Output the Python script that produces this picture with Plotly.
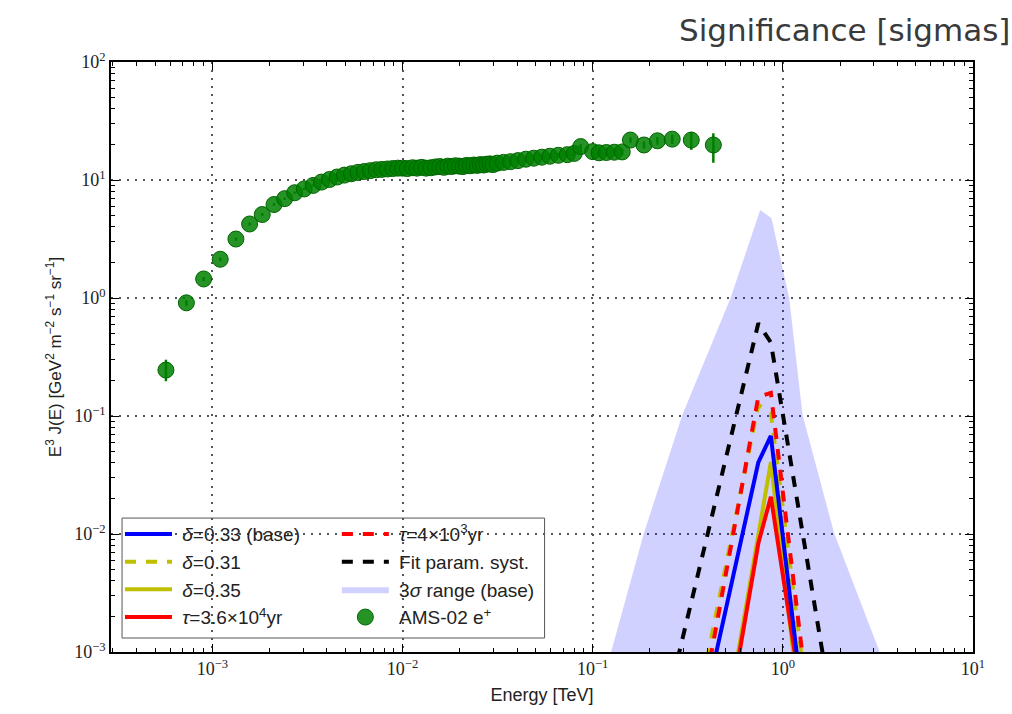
import plotly.graph_objects as go

# ---------------- data ----------------
energy_tev = [0.00057, 0.00073, 0.00090, 0.00110, 0.00133, 0.00157, 0.00183, 0.00211, 0.00240, 0.00271,
              0.00304, 0.00339, 0.00375, 0.00413, 0.00453, 0.00495, 0.00538, 0.00583, 0.00629, 0.00677,
              0.00727, 0.00778, 0.00832, 0.00888, 0.00945, 0.0100, 0.0106, 0.0113, 0.0119, 0.0126,
              0.0133, 0.0141, 0.0149, 0.0157, 0.0165, 0.0173, 0.0181, 0.0190, 0.0199, 0.0208,
              0.0217, 0.0227, 0.0237, 0.0247, 0.0257, 0.0267, 0.0277, 0.0288, 0.0299, 0.0315,
              0.0340, 0.0370, 0.0405, 0.0445, 0.0490, 0.0540, 0.0595, 0.0660, 0.0735, 0.0800,
              0.0865, 0.1000, 0.1080, 0.1180, 0.1300, 0.1430, 0.1580, 0.1860, 0.2190, 0.2620,
              0.3300, 0.4310]
ams_flux = [0.245, 0.91, 1.45, 2.13, 3.16, 4.24, 5.1, 6.2, 6.95, 7.8,
            8.4, 9.0, 9.6, 10.1, 10.6, 11.0, 11.3, 11.6, 11.8, 12.0,
            12.2, 12.3, 12.4, 12.5, 12.6, 12.6, 12.5, 12.7, 12.6, 12.8,
            12.6, 12.7, 12.9, 13.0, 12.8, 13.1, 13.0, 13.2, 13.1, 13.0,
            13.3, 13.2, 13.4, 13.3, 13.5, 13.4, 13.6, 13.7, 13.5, 13.9,
            14.1, 14.3, 14.6, 15.0, 15.3, 15.6, 15.9, 16.2, 16.4, 16.8,
            19.2, 17.4, 17.0, 17.1, 17.2, 17.3, 21.8, 19.8, 21.5, 22.2,
            21.8, 19.8]
ams_err_up = [0.055, 0.05, 0.06, 0.08, 0.1, 0.12, 0.14, 0.16, 0.17, 0.18,
              0.19, 0.2, 0.2, 0.21, 0.22, 0.22, 0.23, 0.23, 0.24, 0.24,
              0.25, 0.25, 0.26, 0.26, 0.27, 0.27, 0.28, 0.28, 0.29, 0.3,
              0.3, 0.31, 0.32, 0.33, 0.33, 0.34, 0.35, 0.36, 0.37, 0.38,
              0.39, 0.4, 0.41, 0.42, 0.43, 0.44, 0.45, 0.46, 0.47, 0.48,
              0.5, 0.52, 0.55, 0.6, 0.62, 0.65, 0.7, 0.75, 0.8, 0.85,
              0.95, 0.95, 1.0, 1.0, 1.05, 1.1, 1.2, 1.4, 1.6, 2.0,
              3.8, 5.1]
ams_err_dn = [0.048, 0.05, 0.06, 0.08, 0.1, 0.12, 0.14, 0.16, 0.17, 0.18,
              0.19, 0.2, 0.2, 0.21, 0.22, 0.22, 0.23, 0.23, 0.24, 0.24,
              0.25, 0.25, 0.26, 0.26, 0.27, 0.27, 0.28, 0.28, 0.29, 0.3,
              0.3, 0.31, 0.32, 0.33, 0.33, 0.34, 0.35, 0.36, 0.37, 0.38,
              0.39, 0.4, 0.41, 0.42, 0.43, 0.44, 0.45, 0.46, 0.47, 0.48,
              0.5, 0.52, 0.55, 0.6, 0.62, 0.65, 0.7, 0.75, 0.8, 0.85,
              0.95, 0.95, 1.0, 1.0, 1.05, 1.1, 1.2, 1.4, 1.6, 2.0,
              3.8, 5.8]

band_e = [0.125, 0.186, 0.296, 0.531, 0.760, 0.872, 1.08, 1.27, 1.86, 3.23]
band_j = [1e-3, 0.0102, 0.102, 1.0, 5.57, 4.73, 1.0, 0.102, 0.0102, 1e-3]

base_e = [0.393, 0.743, 0.865, 1.266]
base_j = [3.9e-4, 0.0404, 0.0678, 3.9e-4]
d031_e = [0.361, 0.743, 0.865, 1.343]
d031_j = [3.9e-4, 0.124, 0.106, 3.9e-4]
d035_e = [0.527, 0.865, 1.215]
d035_j = [3.9e-4, 0.0407, 3.9e-4]
tau36_e = [0.535, 0.743, 0.865, 1.262]
tau36_j = [3.9e-4, 8.3e-3, 0.0207, 3.9e-4]
tau4_e = [0.379, 0.743, 0.865, 1.355]
tau4_j = [3.9e-4, 0.145, 0.157, 3.9e-4]
fit_e = [0.248, 0.743, 0.865, 1.78]
fit_j = [3.9e-4, 0.61, 0.42, 3.9e-4]

x_ticks = [1e-3, 1e-2, 1e-1, 1, 10]
x_ticktext = ["10<sup>−3</sup>", "10<sup>−2</sup>", "10<sup>−1</sup>", "10<sup>0</sup>", "10<sup>1</sup>"]
y_ticks = [1e-3, 1e-2, 1e-1, 1, 10, 100]
y_ticktext = ["10<sup>−3</sup>", "10<sup>−2</sup>", "10<sup>−1</sup>", "10<sup>0</sup>", "10<sup>1</sup>", "10<sup>2</sup>"]

# ---------------- figure ----------------
DASH = "11px,10px"
SP = "\u00a0"
fig = go.Figure()

fig.add_trace(go.Scatter(x=band_e, y=band_j, fill="toself", mode="lines",
                         fillcolor="rgba(0,0,255,0.18)", line=dict(width=0),
                         name=SP + "3<i>σ</i> range (base)", legend="legend2", legendrank=3))
fig.add_trace(go.Scatter(x=d031_e, y=d031_j, mode="lines", line=dict(color="#bfbf00", width=4, dash=DASH),
                         name=SP + "<i>δ</i>=0.31", legend="legend", legendrank=2))
fig.add_trace(go.Scatter(x=tau4_e, y=tau4_j, mode="lines", line=dict(color="#ff0000", width=4, dash=DASH),
                         name=SP + "<i>τ</i>=4×10<sup>3</sup>yr", legend="legend2", legendrank=1))
fig.add_trace(go.Scatter(x=fit_e, y=fit_j, mode="lines", line=dict(color="#000000", width=4, dash=DASH),
                         name=SP + "Fit param. syst.", legend="legend2", legendrank=2))
fig.add_trace(go.Scatter(x=d035_e, y=d035_j, mode="lines", line=dict(color="#bfbf00", width=4),
                         name=SP + "<i>δ</i>=0.35", legend="legend", legendrank=3))
fig.add_trace(go.Scatter(x=tau36_e, y=tau36_j, mode="lines", line=dict(color="#ff0000", width=4),
                         name=SP + "<i>τ</i>=3.6×10<sup>4</sup>yr", legend="legend", legendrank=4))
fig.add_trace(go.Scatter(x=base_e, y=base_j, mode="lines", line=dict(color="#0000ff", width=4),
                         name=SP + "<i>δ</i>=0.33 (base)", legend="legend", legendrank=1))
fig.add_trace(go.Scatter(x=energy_tev, y=ams_flux, mode="markers",
                         marker=dict(size=16, color="rgba(0,128,0,0.85)", line=dict(color="#006400", width=1)),
                         error_y=dict(type="data", symmetric=False, array=ams_err_up, arrayminus=ams_err_dn,
                                      color="#008000", thickness=2.5, width=0),
                         name=SP + "AMS-02 e<sup>+</sup>", legend="legend2", legendrank=4))

minor_vals = [m * 10 ** k for k in range(-4, 2) for m in range(2, 10)]
axis_common = dict(type="log", showline=True, linecolor="black", linewidth=1.5, mirror="ticks",
                   ticks="inside", ticklen=8, tickwidth=1, tickcolor="black",
                   showgrid=True, gridcolor="#555", griddash="2px,6px", gridwidth=1.5, zeroline=False,
                   tickfont=dict(family="Liberation Serif", size=18, color="#222"),
                   minor=dict(tickmode="array", tickvals=minor_vals, ticks="inside", ticklen=4,
                              tickcolor="black", showgrid=False))

fig.update_xaxes(range=[-3.533, 1], tickmode="array", tickvals=x_ticks, ticktext=x_ticktext,
                 title=dict(text="Energy [TeV]", font=dict(family="Liberation Sans", size=18, color="#222"),
                            standoff=10), **axis_common)
fig.update_yaxes(range=[-3, 2], tickmode="array", tickvals=y_ticks, ticktext=y_ticktext,
                 title=dict(text="E<sup>3</sup> J(E) [GeV<sup>2</sup> m<sup>−2</sup> s<sup>−1</sup> sr<sup>−1</sup>]",
                            font=dict(family="Liberation Sans", size=17, color="#222"), standoff=8),
                 **axis_common)

legend_common = dict(bgcolor="rgba(0,0,0,0)", borderwidth=0, font=dict(family="Liberation Sans", size=19, color="#222"),
                     xanchor="left", yanchor="top", traceorder="normal", itemwidth=47, tracegroupgap=0)
fig.update_layout(
    width=1012, height=714,
    margin=dict(l=111, r=39, t=62, b=62),
    plot_bgcolor="white", paper_bgcolor="white",
    legend=dict(x=0.0104, y=0.232, **legend_common),
    legend2=dict(x=0.262, y=0.232, **legend_common),
    shapes=[dict(type="rect", xref="paper", yref="paper", x0=0.0128, x1=0.503, y0=0.0237, y1=0.227,
                 line=dict(color="#555", width=1), fillcolor="white", layer="between")],
    annotations=[dict(text="Significance [sigmas]", xref="paper", yref="paper", x=1.045, y=1.055,
                      xanchor="right", yanchor="middle", showarrow=False,
                      font=dict(family="DejaVu Sans", size=31, color="#3a3a3a"))],
)

fig.write_html("out.html")
